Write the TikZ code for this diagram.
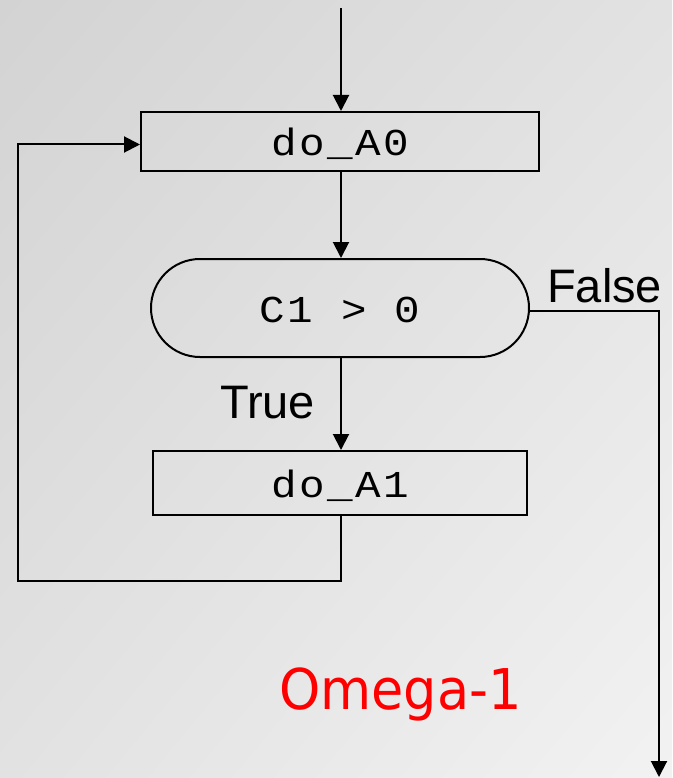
\documentclass[tikz,border=0pt]{standalone}
\usepackage{fontspec}
\usetikzlibrary{arrows.meta,shadings}
\setmainfont{Liberation Sans}
\newfontfamily\codefont[LetterSpace=6]{Liberation Mono}
\newfontfamily\dejafont{DejaVu Sans}
\definecolor{bgdark}{RGB}{211,211,211}
\definecolor{bgmid}{RGB}{226,226,226}
\definecolor{bglight}{RGB}{242,242,242}
\definecolor{labelred}{RGB}{255,0,0}
\newcommand{\codeword}[1]{\scalebox{1.12}[1]{#1}}
\begin{document}
\begin{tikzpicture}[x=1pt,y=-1pt,
  flow/.style={line width=2pt, draw=black},
  arr/.style={flow, -{Triangle[length=16pt,width=16pt]}},
  codetext/.style={font=\codefont\fontsize{38}{38}\selectfont,
    text height=28.5pt, text depth=0pt, inner sep=0pt},
  actbox/.style={codetext, draw=black, line width=2pt, rectangle},
  condbox/.style={codetext, draw=black, line width=2pt, rectangle,
    rounded corners=49pt},
  branch/.style={font=\fontsize{47}{47}\selectfont, inner sep=0pt, anchor=base west},
]
% background
\shade[upper left=bgdark, upper right=bgmid, lower left=bgmid, lower right=bglight]
  (0,0) rectangle (672,778);
\useasboundingbox (0,0) rectangle (672,778);

% blocks
\node[actbox, minimum width=398pt, minimum height=59pt] (A0) at (340,141.5) {\codeword{do\_A0}};
\node[condbox, minimum width=378pt, minimum height=98pt] (C1) at (340,308) {\codeword{C1 > 0}};
\node[actbox, minimum width=374pt, minimum height=64pt] (A1) at (340,483) {\codeword{do\_A1}};

% free ends
\coordinate (entry) at (341,8);
\coordinate (loopcorner) at (18,581);
\coordinate (exit) at (659,777);

% connectors
\draw[arr] (entry) -- (entry |- A0.north);
\draw[arr] (A0.south -| entry) -- (C1.north -| entry);
\draw[arr] (C1.south -| entry) -- (A1.north -| entry);
\draw[arr] (A1.south -| entry) |- (loopcorner) |- ([yshift=-3pt]A0.west);
\draw[arr] ([yshift=-3pt]C1.east) -| (exit);

% branch labels
\node[branch] (truelbl) at (220,418) {True};
\node[branch] (falselbl) at (547,302) {False};
\node[font=\dejafont\fontsize{53}{53}\selectfont, text=labelred, inner sep=0pt,
  anchor=base west] (title) at (279,709) {\scalebox{0.99}[1.06]{Omega-1}};
\end{tikzpicture}
\end{document}
